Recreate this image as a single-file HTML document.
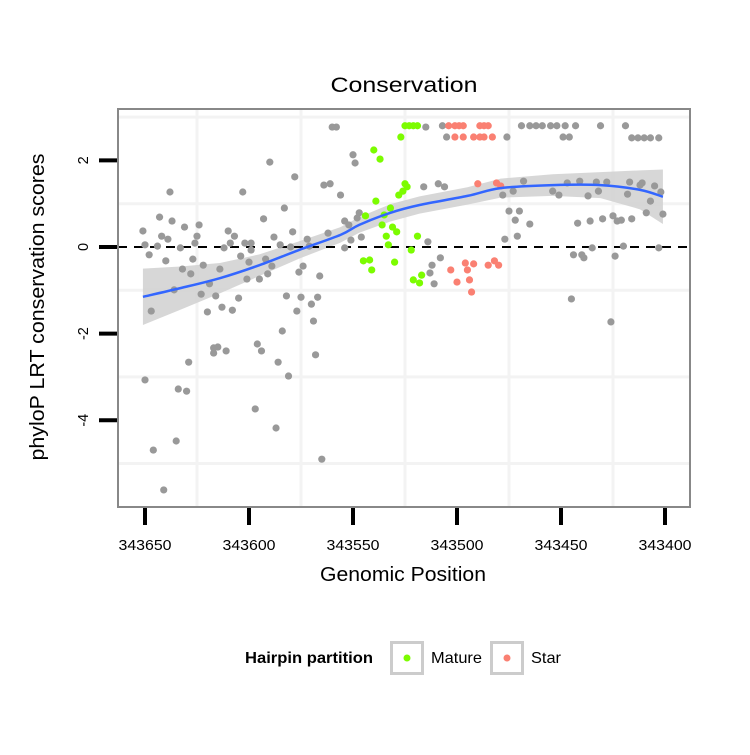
<!DOCTYPE html>
<html><head><meta charset="utf-8"><style>
body{margin:0;background:#fff;}
svg text{font-family:"Liberation Sans",Arial,sans-serif;}
</style></head><body>
<svg id="chart" width="750" height="750" xmlns="http://www.w3.org/2000/svg">
<rect width="750" height="750" fill="#fff"/>
<text x="404" y="92" text-anchor="middle" font-size="21" textLength="147" lengthAdjust="spacingAndGlyphs">Conservation</text>
<g id="grid"></g>
<g id="band"></g>
<line id="zeroline" x1="118" x2="690" stroke="#000" stroke-width="2" stroke-dasharray="9,7"/>
<g id="pts"></g>
<g id="smooth"></g>
<rect x="118" y="109" width="572" height="398" fill="none" stroke="#888" stroke-width="2"/>
<g id="axes"></g>
<text x="403" y="581" text-anchor="middle" font-size="20" textLength="166" lengthAdjust="spacingAndGlyphs">Genomic Position</text>
<text transform="translate(44,307) rotate(-90)" text-anchor="middle" font-size="20" textLength="307" lengthAdjust="spacingAndGlyphs">phyloP LRT conservation scores</text>
<g>
<text x="245" y="663" font-size="16" font-weight="bold" textLength="128" lengthAdjust="spacingAndGlyphs">Hairpin partition</text>
<rect x="391.5" y="642.5" width="31" height="31" fill="#fff" stroke="#ccc" stroke-width="3"/>
<circle cx="407" cy="658" r="3.5" fill="#7CFC00"/>
<text x="431" y="663" font-size="16" textLength="51" lengthAdjust="spacingAndGlyphs">Mature</text>
<rect x="491.5" y="642.5" width="31" height="31" fill="#fff" stroke="#ccc" stroke-width="3"/>
<circle cx="507" cy="658" r="3.5" fill="#FA8072"/>
<text x="531" y="663" font-size="16" textLength="30" lengthAdjust="spacingAndGlyphs">Star</text>
</g>
</svg>
<script>
const grayPos=[343651,343650,343648,343643,343642,343639,343638,343637,343644,343640,343647,343636,343633,343632,343631,343628,343627,343626,343625,343624,343622,343623,343620,343619,343616,343614,343613,343612,343610,343608,343607,343609,343605,343603,343604,343602,343600,343601,343599,343599,343595,343593,343592,343591,343589,343590,343588,343585,343583,343582,343580,343579,343578,343576,343575,343574,343572,343571,343577,343570,343569,343567,343566,343562,343564,343561,343558,343556,343554,343554,343552,343551,343550,343549,343548,343547,343546,343617,343615,343617,343611,343629,343650,343634,343630,343646,343635,343641,343596,343594,343584,343586,343581,343597,343587,343568,343565,343515,343507,343505,343476,343516,343509,343506,343514,343508,343512,343513,343511,343469,343465,343462,343459,343455,343452,343448,343443,343431,343419,343449,343446,343416,343413,343410,343407,343403,343468,343478,343473,343475,343470,343472,343465,343477,343471,343454,343451,343447,343441,343437,343433,343432,343428,343417,343418,343412,343411,343405,343402,343407,343409,343401,343442,343436,343430,343425,343423,343421,343416,343444,343440,343439,343435,343424,343420,343403,343445,343426,343560];
const grayScore=[0.37,0.05,-0.18,0.69,0.25,0.18,1.27,0.60,0.02,-0.32,-1.48,-0.99,-0.02,-0.51,0.46,-0.62,-0.28,0.09,0.25,0.51,-0.42,-1.09,-1.50,-0.85,-1.13,-0.51,-1.39,-0.02,0.37,-1.46,0.25,0.09,-1.18,1.27,-0.21,0.09,-0.35,-0.74,0.09,-0.07,-0.74,0.65,-0.28,-0.62,-0.44,1.96,0.23,0.05,0.90,-1.13,0.00,0.35,1.62,-0.58,-1.16,-0.44,0.18,0.02,-1.48,-1.32,-1.71,-1.16,-0.67,0.32,1.43,1.46,2.77,1.20,-0.02,0.60,0.51,0.16,2.13,1.94,0.67,0.79,0.23,-2.33,-2.31,-2.45,-2.40,-2.66,-3.07,-3.28,-3.33,-4.69,-4.48,-5.61,-2.24,-2.40,-1.94,-2.66,-2.98,-3.74,-4.18,-2.49,-4.90,2.77,2.80,2.54,2.54,1.39,1.46,1.39,0.12,-0.25,-0.42,-0.60,-0.85,2.80,2.80,2.80,2.80,2.80,2.80,2.80,2.80,2.80,2.80,2.54,2.54,2.52,2.52,2.52,2.52,2.52,1.52,1.20,1.29,0.83,0.83,0.62,0.53,0.18,0.25,1.29,1.20,1.48,1.52,1.18,1.50,1.29,1.50,1.50,1.22,1.43,1.48,1.41,1.27,1.06,0.79,0.76,0.55,0.60,0.65,0.72,0.60,0.62,0.65,-0.18,-0.18,-0.25,-0.02,-0.21,0.02,-0.02,-1.20,-1.73,2.77];
const maturePos=[343540,343537,343539,343544,343535,343536,343532,343531,343529,343534,343533,343545,343542,343541,343530,343528,343526,343525,343527,343525,343523,343521,343519,343524,343519,343522,343521,343518,343517];
const matureScore=[2.24,2.03,1.06,0.72,0.74,0.51,0.90,0.46,0.35,0.25,0.05,-0.32,-0.30,-0.53,-0.35,1.20,1.29,1.46,2.54,2.80,2.80,2.80,2.80,1.39,0.25,-0.07,-0.76,-0.83,-0.65];
const starPos=[343504,343501,343499,343497,343489,343487,343485,343501,343497,343492,343489,343487,343483,343490,343481,343479,343503,343500,343494,343496,343495,343492,343485,343482,343480,343493];
const starScore=[2.80,2.80,2.80,2.80,2.80,2.80,2.80,2.54,2.54,2.54,2.54,2.54,2.54,1.46,1.48,1.41,-0.53,-0.81,-0.76,-0.37,-0.53,-0.39,-0.42,-0.32,-0.42,-1.04];
const fitPos=[343651,343633,343614,343595,343576,343556,343547,343532,343518,343495,343479,343454,343431,343412,343401];
const fitScore=[-1.15,-0.95,-0.72,-0.42,-0.07,0.28,0.51,0.79,0.97,1.18,1.36,1.43,1.43,1.32,1.16];
const fitSE=[0.65,0.5,0.35,0.25,0.2,0.18,0.18,0.2,0.2,0.2,0.22,0.25,0.3,0.45,0.63];
const xTicks=[343650,343600,343550,343500,343450,343400];
const xMinor=[343625,343575,343525,343475,343425];
const yTicks=[2,0,-2,-4];
const yMinor=[3,1,-1,-3,-5];

const NS="http://www.w3.org/2000/svg";
function X(v){return 145+(343650-v)*2.08;}
function Y(v){return 247-v*43.3;}
function mk(tag,attrs,parent){const e=document.createElementNS(NS,tag);for(const k in attrs)e.setAttribute(k,attrs[k]);parent.appendChild(e);return e;}
const grid=document.getElementById('grid');
xMinor.forEach(v=>{const l=mk('line',{x1:X(v),x2:X(v),y1:110,y2:506,stroke:'#f3f3f3','stroke-width':3},grid);

});
yMinor.forEach(v=>{const l=mk('line',{x1:119,x2:689,y1:Y(v),y2:Y(v),stroke:'#f3f3f3','stroke-width':3},grid);

});
const zl=document.getElementById('zeroline');zl.setAttribute('y1',Y(0));zl.setAttribute('y2',Y(0));
let up=fitPos.map((p,i)=>X(p)+','+Y(fitScore[i]+fitSE[i]));
let lo=fitPos.map((p,i)=>X(p)+','+Y(fitScore[i]-fitSE[i])).reverse();
const band=mk('polygon',{points:up.concat(lo).join(' '),fill:'#d0d0d0','fill-opacity':0.85},document.getElementById('band'));


const pts=document.getElementById('pts');
function drawPts(ps,ss,col,name){ps.forEach((p,i)=>{const c=mk('circle',{cx:X(p),cy:Y(ss[i]),r:3.6,fill:col},pts);

});}
drawPts(grayPos,grayScore,'#999999','point-unpartitioned');
drawPts(maturePos,matureScore,'#7CFC00','point-mature');
drawPts(starPos,starScore,'#FA8072','point-star');
const P=fitPos.map((p,i)=>[X(p),Y(fitScore[i])]);
let d='M'+P[0][0]+','+P[0][1];
for(let i=0;i<P.length-1;i++){const p0=P[i-1]||P[i],p1=P[i],p2=P[i+1],p3=P[i+2]||P[i+1];
d+=' C'+(p1[0]+(p2[0]-p0[0])/6)+','+(p1[1]+(p2[1]-p0[1])/6)+' '+(p2[0]-(p3[0]-p1[0])/6)+','+(p2[1]-(p3[1]-p1[1])/6)+' '+p2[0]+','+p2[1];}
const sm=mk('path',{d:d,fill:'none',stroke:'#3366FF','stroke-width':2.5},document.getElementById('smooth'));


const ax=document.getElementById('axes');
xTicks.forEach(v=>{const t=mk('line',{x1:X(v),x2:X(v),y1:508,y2:525,stroke:'#000','stroke-width':4},ax);


const l=mk('text',{x:X(v),y:550,'text-anchor':'middle','font-size':14.5,textLength:53,lengthAdjust:'spacingAndGlyphs'},ax);l.textContent=v;

});
yTicks.forEach(v=>{const t=mk('line',{x1:99,x2:117,y1:Y(v),y2:Y(v),stroke:'#000','stroke-width':4},ax);


const l=mk('text',{transform:'translate(88,'+Y(v)+') rotate(-90)','text-anchor':'middle','font-size':14.5},ax);l.textContent=v;

});
</script>
</body></html>
